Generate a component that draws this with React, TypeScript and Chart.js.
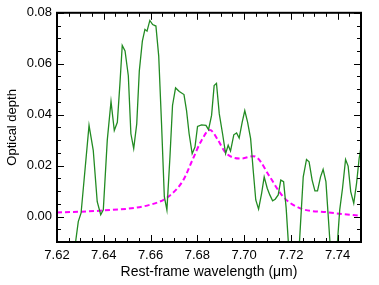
import React, { useEffect, useRef } from "react";
import { Chart, registerables } from "chart.js";

Chart.register(...registerables);

const dataWavelength = [
  7.6265, 7.6291, 7.6303, 7.6337, 7.6355, 7.6372, 7.6387, 7.6398, 7.6415, 7.6431,
  7.6445, 7.6458, 7.6469, 7.6479, 7.6491, 7.6505, 7.6516, 7.6528, 7.6541, 7.6552,
  7.6565, 7.6576, 7.6585, 7.6597, 7.6609, 7.6623, 7.6635, 7.6647, 7.6659, 7.667,
  7.6683, 7.6694, 7.6707, 7.6723, 7.6743, 7.6754, 7.6765, 7.6778, 7.679, 7.6801,
  7.6818, 7.6837, 7.6848, 7.6861, 7.6872, 7.6882, 7.6894, 7.6908, 7.6921, 7.6932,
  7.6942, 7.6956, 7.6968, 7.6979, 7.6992, 7.7003, 7.7015, 7.7028, 7.7039, 7.705,
  7.7062, 7.7075, 7.7086, 7.7099, 7.711, 7.7122, 7.7133, 7.7146, 7.7157, 7.7169,
  7.718, 7.7192, 7.722, 7.7235, 7.7253, 7.7267, 7.7278, 7.7291, 7.7303, 7.7314,
  7.7327, 7.7338, 7.735, 7.7359, 7.7372, 7.7385, 7.7397, 7.7409, 7.7421, 7.7434,
  7.7445, 7.7456, 7.7469, 7.7481, 7.7492, 7.75,
];
const dataDepth = [
  -0.02, -0.002, 0.0014, 0.0358, 0.026, 0.0058, 0.0007, 0.0026, 0.03, 0.0452,
  0.0338, 0.037, 0.052, 0.0672, 0.065, 0.0553, 0.0325, 0.0267, 0.0364, 0.0572,
  0.0689, 0.0735, 0.0728, 0.077, 0.0754, 0.0748, 0.063, 0.0365, 0.0078, 0.0026,
  0.0234, 0.0436, 0.0505, 0.0491, 0.0479, 0.0416, 0.0325, 0.0247, 0.0273, 0.0354,
  0.036, 0.0358, 0.0341, 0.0397, 0.0514, 0.0523, 0.0403, 0.0325, 0.0247, 0.028,
  0.0257, 0.0321, 0.0328, 0.0308, 0.0371, 0.0416, 0.0371, 0.0306, 0.0182, 0.0065,
  0.0029, 0.0091, 0.0156, 0.0111, 0.0085, 0.0062, 0.0068, 0.0085, 0.0143, 0.0137,
  0.0033, -0.014, -0.02, -0.013, 0.0156, 0.0224, 0.0215, 0.0143, 0.0101, 0.0101,
  0.0156, 0.0185, 0.0137, 0.0013, -0.0165, -0.02, -0.013, 0.0026, 0.0111, 0.0224,
  0.0198, 0.0098, 0.0052, 0.013, 0.0228, 0.0273,
];

const modelWavelength = [
  7.62, 7.6384, 7.6597, 7.6676, 7.674, 7.6782, 7.6818, 7.6854, 7.6889, 7.6918,
  7.6953, 7.6989, 7.7039, 7.706, 7.711, 7.7167, 7.7238, 7.7353, 7.75,
];
const modelDepth = [
  0.0016, 0.0023, 0.0046, 0.0078, 0.0143, 0.0228, 0.0299, 0.034, 0.0299, 0.0254,
  0.0232, 0.0228, 0.0237, 0.0228, 0.0156, 0.0078, 0.0033, 0.0017, 0.0003,
];

const xTickValues = [7.62, 7.64, 7.66, 7.68, 7.7, 7.72, 7.74];
const yTickValues = [0.0, 0.02, 0.04, 0.06, 0.08];

const X_MIN = 7.62;
const X_MAX = 7.75;
const Y_MIN = -0.01;
const Y_MAX = 0.08;

const FONT = "'Liberation Sans', Arial, Helvetica, sans-serif";

const framePlugin = {
  id: "idlFrame",
  afterDatasetsDraw(chart: any) {
    const { ctx, chartArea, scales } = chart;
    const { left, right, top, bottom } = chartArea;
    const xs = scales.x;
    const ys = scales.y;
    ctx.save();
    ctx.strokeStyle = "#000";
    ctx.lineWidth = 1;
    ctx.beginPath();
    const nx = Math.round((X_MAX - X_MIN) / 0.005);
    for (let i = 0; i <= nx; i++) {
      const v = X_MIN + i * 0.005;
      const px = Math.round(xs.getPixelForValue(v)) + 0.5;
      const major = i % 4 === 0;
      const len = major ? 7 : 4;
      ctx.moveTo(px, bottom);
      ctx.lineTo(px, bottom - len);
      ctx.moveTo(px, top);
      ctx.lineTo(px, top + len);
    }
    const ny = Math.round((Y_MAX - Y_MIN) / 0.005);
    for (let i = 0; i <= ny; i++) {
      const v = Y_MIN + i * 0.005;
      const py = Math.round(ys.getPixelForValue(v)) + 0.5;
      const major = (i - 2) % 4 === 0;
      const len = major ? 7 : 4;
      ctx.moveTo(left, py);
      ctx.lineTo(left + len, py);
      ctx.moveTo(right, py);
      ctx.lineTo(right - len, py);
    }
    ctx.stroke();
    ctx.lineWidth = 2;
    ctx.strokeRect(left, top, right - left, bottom - top);
    ctx.restore();
  },
};

export default function App() {
  const canvasRef = useRef<HTMLCanvasElement | null>(null);

  useEffect(() => {
    const canvas = canvasRef.current;
    if (!canvas) return;
    const chart = new Chart(canvas, {
      type: "line",
      data: {
        datasets: [
          {
            label: "data",
            data: dataWavelength.map((x, i) => ({ x, y: dataDepth[i] })),
            borderColor: "#228B22",
            borderWidth: 1.3,
            pointRadius: 0,
            tension: 0,
            fill: false,
          },
          {
            label: "model",
            data: modelWavelength.map((x, i) => ({ x, y: modelDepth[i] })),
            borderColor: "#FF00FF",
            borderWidth: 2,
            borderDash: [5, 3],
            pointRadius: 0,
            cubicInterpolationMode: "monotone",
            fill: false,
          },
        ],
      },
      options: {
        responsive: false,
        animation: false,
        devicePixelRatio: 1,
        layout: { padding: { left: 0, right: 18, top: 11, bottom: 0 } },
        plugins: {
          legend: { display: false },
          tooltip: { enabled: false },
        },
        scales: {
          x: {
            type: "linear",
            min: X_MIN,
            max: X_MAX,
            grid: { display: false, drawTicks: false },
            border: { display: false },
            afterBuildTicks: (scale: any) => {
              scale.ticks = xTickValues.map((v) => ({ value: v }));
            },
            afterFit: (scale: any) => {
              scale.height = 43;
            },
            ticks: {
              autoSkip: false,
              maxRotation: 0,
              padding: 6,
              color: "#000",
              font: { family: FONT, size: 13 },
              callback: (v: any) => Number(v).toFixed(2),
            },
            title: {
              display: true,
              text: "Rest-frame wavelength (\u03bcm)",
              color: "#000",
              font: { family: FONT, size: 14 },
              padding: { top: 4, bottom: 4 },
            },
          },
          y: {
            type: "linear",
            min: Y_MIN,
            max: Y_MAX,
            grid: { display: false, drawTicks: false },
            border: { display: false },
            afterBuildTicks: (scale: any) => {
              scale.ticks = yTickValues.map((v) => ({ value: v }));
            },
            afterFit: (scale: any) => {
              scale.width = 57;
            },
            ticks: {
              autoSkip: false,
              padding: 5,
              color: "#000",
              font: { family: FONT, size: 13 },
              callback: (v: any) => Number(v).toFixed(2),
            },
            title: {
              display: true,
              text: "Optical depth",
              color: "#000",
              font: { family: FONT, size: 13 },
              padding: { top: 4.5, bottom: 4.5 },
            },
          },
        },
      },
      plugins: [framePlugin],
    } as any);
    return () => chart.destroy();
  }, []);

  return (
    <div style={{ position: "absolute", left: 0, top: 0, width: 379, height: 285, background: "#fff" }}>
      <canvas ref={canvasRef} width={379} height={285} style={{ width: 379, height: 285, display: "block" }} />
    </div>
  );
}
